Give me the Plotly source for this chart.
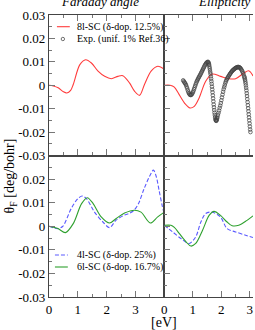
import plotly.graph_objects as go

# ---------------- data ----------------
# Top-left: Faraday angle, 8l-SC
far8_E = [0, 0.15, 0.32, 0.5, 0.62, 0.75, 0.84, 1.07, 1.27, 1.47, 1.7, 1.93, 2.16, 2.39, 2.56, 2.79, 2.97, 3.14, 3.31, 3.54, 3.77, 4.0]
far8_v = [0, -0.0003, -0.0011, -0.0028, -0.0033, -0.0022, 0.0003, 0.0088, 0.0109, 0.0095, 0.006, 0.0038, 0.0028, 0.0038, 0.0041, 0.001, -0.0026, -0.0043, 0.0003, 0.006, 0.0081, 0.0068]

# Top-right: Ellipticity, 8l-SC
ell8_E = [0, 0.2, 0.35, 0.52, 0.72, 0.9, 1.05, 1.22, 1.45, 1.68, 1.97, 2.26, 2.5, 2.79, 2.96, 3.11]
ell8_v = [0, 0, -0.0008, -0.004, -0.0078, -0.0097, -0.009, -0.0054, 0.0017, 0.0048, 0.0038, 0.0028, 0.0028, 0.0052, 0.0062, 0.004]

# Top-right: experiment (unif. 1%, Ref.36)
exp_E = [0.66, 0.68, 0.70, 0.72, 0.74, 0.76, 0.78, 0.80, 0.82, 0.84, 0.86, 0.88, 0.90, 0.92, 0.94, 0.96, 0.98,
         1.00, 1.02, 1.04, 1.06, 1.08, 1.10, 1.12, 1.14, 1.16, 1.18, 1.20, 1.22, 1.24, 1.26, 1.28, 1.30, 1.32,
         1.34, 1.36, 1.38, 1.40, 1.42, 1.44, 1.46, 1.48, 1.50, 1.52, 1.54, 1.55, 1.56, 1.57, 1.58, 1.59, 1.60,
         1.61, 1.62, 1.63, 1.64, 1.65, 1.66, 1.67, 1.68, 1.69, 1.70, 1.71, 1.72, 1.73, 1.74, 1.75, 1.76, 1.77,
         1.78, 1.79, 1.80, 1.81, 1.82, 1.83, 1.84, 1.85, 1.86, 1.88, 1.90, 1.92, 1.94, 1.96, 1.98, 2.00, 2.02,
         2.04, 2.06, 2.08, 2.10, 2.12, 2.14, 2.16, 2.18, 2.20, 2.22, 2.24, 2.26, 2.28, 2.30, 2.32, 2.34, 2.36,
         2.38, 2.40, 2.42, 2.44, 2.46, 2.48, 2.50, 2.52, 2.54, 2.56, 2.58, 2.60, 2.62, 2.64, 2.66, 2.68, 2.70,
         2.72, 2.74, 2.76, 2.78, 2.80, 2.81, 2.82, 2.83, 2.84, 2.85, 2.86, 2.87, 2.88, 2.89, 2.90, 2.91, 2.92,
         2.93, 2.94, 2.95, 2.96, 2.97, 2.98, 2.99, 3.00, 3.01, 3.02]
exp_v = [0.0021, 0.0017, 0.0013, 0.0010, 0.0006, 0.0001, -0.0006, -0.0013, -0.0021, -0.0028, -0.0034, -0.0038,
         -0.0041, -0.0042, -0.0041, -0.0039, -0.0035, -0.0030, -0.0024, -0.0017, -0.0010, -0.0003, 0.0004,
         0.0011, 0.0017, 0.0022, 0.0027, 0.0032, 0.0036, 0.0041, 0.0045, 0.0050, 0.0055, 0.0060, 0.0065,
         0.0070, 0.0075, 0.0080, 0.0085, 0.0089, 0.0093, 0.0096, 0.0098, 0.0100, 0.0099, 0.0096, 0.0092,
         0.0087, 0.0080, 0.0073, 0.0065, 0.0056, 0.0048, 0.0038, 0.0028, 0.0017, 0.0006, -0.0006, -0.0018,
         -0.0030, -0.0043, -0.0056, -0.0069, -0.0082, -0.0094, -0.0106, -0.0117, -0.0127, -0.0136, -0.0143,
         -0.0148, -0.0151, -0.0152, -0.0150, -0.0146, -0.0141, -0.0136, -0.0127, -0.0118, -0.0108, -0.0097,
         -0.0087, -0.0076, -0.0064, -0.0052, -0.0040, -0.0028, -0.0017, -0.0008, 0.0001, 0.0010, 0.0017,
         0.0023, 0.0028, 0.0032, 0.0036, 0.0040, 0.0044, 0.0048, 0.0051, 0.0055, 0.0058, 0.0061, 0.0064,
         0.0066, 0.0068, 0.0070, 0.0072, 0.0074, 0.0075, 0.0076, 0.0077, 0.0078, 0.0078, 0.0077, 0.0076,
         0.0074, 0.0071, 0.0067, 0.0063, 0.0058, 0.0052, 0.0046, 0.0038, 0.0034, 0.0029, 0.0023, 0.0016,
         0.0008, -0.0001, -0.0011, -0.0022, -0.0034, -0.0046, -0.0059, -0.0072, -0.0085, -0.0098, -0.0111,
         -0.0124, -0.0137, -0.0150, -0.0163, -0.0176, -0.0189, -0.0200]

# Bottom-left: Faraday angle, 4l-SC and 6l-SC
far4_E = [0, 0.31, 0.48, 0.77, 1.0, 1.15, 1.3, 1.58, 1.87, 2.1, 2.32, 2.61, 2.79, 2.95, 3.1, 3.3, 3.5, 3.62, 3.72, 3.82, 3.92, 4.0]
far4_v = [0, -0.001, 0, 0.0075, 0.0117, 0.0128, 0.0117, 0.006, 0.0018, -0.0006, 0.0025, 0.0047, 0.0055, 0.0068, 0.0095, 0.016, 0.0215, 0.0238, 0.021, 0.015, 0.009, 0.005]
far6_E = [0, 0.31, 0.57, 0.84, 1.13, 1.33, 1.53, 1.81, 2.1, 2.33, 2.62, 2.96, 3.19, 3.51, 3.77, 4.0]
far6_v = [0, -0.001, -0.0027, 0.0011, 0.0096, 0.0121, 0.0096, 0.004, 0.0014, 0.0033, 0.0056, 0.0068, 0.006, 0.0014, 0.004, 0.006]

# Bottom-right: Ellipticity, 4l-SC and 6l-SC
ell4_E = [0, 0.29, 0.58, 0.87, 1.1, 1.28, 1.45, 1.68, 1.97, 2.2, 2.5, 2.85, 3.11]
ell4_v = [0.0004, -0.0024, -0.0052, -0.0073, -0.0045, 0.0018, 0.0054, 0.006, 0.0039, -0.001, -0.0024, -0.0038, -0.0048]
ell6_E = [0, 0.23, 0.35, 0.52, 0.76, 0.93, 1.1, 1.34, 1.57, 1.74, 1.97, 2.2, 2.38, 2.61, 2.9, 3.11]
ell6_v = [0.0004, 0.0004, -0.0005, -0.003, -0.0066, -0.0084, -0.0073, -0.0017, 0.0046, 0.0063, 0.0046, 0.0018, 0.0002, 0.0004, 0.0025, 0.0044]

y_ticks = [-0.03, -0.02, -0.01, 0, 0.01, 0.02, 0.03]
y_text_top = ["-0.03", "-0.02", "-0.01", "0", "0.01", "0.02", "0.03"]
y_ticks_bot = [-0.03, -0.02, -0.01, 0, 0.01, 0.02, 0.03]
y_text_bot = ["-0.03", "-0.02", "-0.01", "0", "0.01", "0.02", " "]
y_minor = [-0.025, -0.015, -0.005, 0.005, 0.015, 0.025]
x_ticks_left = [0, 1, 2, 3, 4]
x_text_left = ["0", "1", "2", "3", " "]
x_ticks_right = [0, 1, 2, 3]
x_text_right = ["0", "1", "2", "3"]
x_minor = [0.5, 1.5, 2.5, 3.5]

legend_top = ["8l-SC (δ-dop. 12.5%)", "Exp. (unif. 1% Ref.36)"]
legend_bot = ["4l-SC (δ-dop. 25%)", "6l-SC (δ-dop. 16.7%)"]

RED = "#ff3b3b"
BLUE = "#5a5aff"
GREEN = "#2ea02e"
FONT = "Liberation Serif"

W, H = 255, 330
ML, MR, MT, MB = 49, 0, 15, 33
PW, PH = W - ML - MR, H - MT - MB


def px(xp):
    return (xp - ML) / PW


def py(yp):
    return (H - MB - yp) / PH


split_x = px(165.5)
split_y = py(155.5)

fig = go.Figure()
line_kw = dict(shape="spline", smoothing=0.9, width=1.1)
fig.add_trace(go.Scatter(x=far8_E, y=far8_v, mode="lines", line=dict(color=RED, **line_kw), xaxis="x", yaxis="y"))
fig.add_trace(go.Scatter(x=ell8_E, y=ell8_v, mode="lines", line=dict(color=RED, **line_kw), xaxis="x2", yaxis="y2"))
fig.add_trace(go.Scatter(x=exp_E, y=exp_v, mode="markers",
                         marker=dict(symbol="circle-open", size=3.6, color="#444", line=dict(width=0.75)),
                         xaxis="x2", yaxis="y2"))
fig.add_trace(go.Scatter(x=far4_E, y=far4_v, mode="lines", line=dict(color=BLUE, dash="4px,2px", **line_kw), xaxis="x3", yaxis="y3"))
fig.add_trace(go.Scatter(x=far6_E, y=far6_v, mode="lines", line=dict(color=GREEN, **line_kw), xaxis="x3", yaxis="y3"))
fig.add_trace(go.Scatter(x=ell4_E, y=ell4_v, mode="lines", line=dict(color=BLUE, dash="4px,2px", **line_kw), xaxis="x4", yaxis="y4"))
fig.add_trace(go.Scatter(x=ell6_E, y=ell6_v, mode="lines", line=dict(color=GREEN, **line_kw), xaxis="x4", yaxis="y4"))

AX = dict(showline=True, linecolor="#444", linewidth=1.1, ticks="inside", ticklen=6, tickcolor="#777",
          tickwidth=1, showgrid=False, zeroline=False, tickfont=dict(family=FONT, size=13, color="#000"))


def xax(domain, anchor, rng, vals, text, labels, mirror):
    return dict(AX, domain=domain, anchor=anchor, range=rng, tickmode="array", tickvals=vals, ticktext=text,
                showticklabels=labels, mirror=mirror,
                minor=dict(tickmode="array", tickvals=x_minor, ticks="inside", ticklen=3, tickcolor="#777"))


def yax(domain, anchor, vals, text, labels, mirror):
    return dict(AX, domain=domain, anchor=anchor, range=[-0.03, 0.03], tickmode="array", tickvals=vals,
                ticktext=text, showticklabels=labels, mirror=mirror,
                minor=dict(tickmode="array", tickvals=y_minor, ticks="inside", ticklen=3, tickcolor="#777"))


fig.update_layout(
    width=W, height=H, margin=dict(l=ML, r=MR, t=MT, b=MB),
    paper_bgcolor="white", plot_bgcolor="white", showlegend=False,
    font=dict(family=FONT, size=12, color="#000"),
    xaxis=xax([0, split_x], "y", [0, 4], x_ticks_left, x_text_left, False, "ticks"),
    xaxis2=xax([split_x, 1], "y2", [0, 3.11], x_ticks_right, x_text_right, False, "ticks"),
    xaxis3=xax([0, split_x], "y3", [0, 4], x_ticks_left, x_text_left, True, True),
    xaxis4=xax([split_x, 1], "y4", [0, 3.11], x_ticks_right, x_text_right, True, True),
    yaxis=yax([split_y, 1], "x", y_ticks, y_text_top, True, True),
    yaxis2=yax([split_y, 1], "x2", y_ticks, y_text_top, False, False),
    yaxis3=yax([0, split_y], "x3", y_ticks_bot, y_text_bot, True, True),
    yaxis4=yax([0, split_y], "x4", y_ticks_bot, y_text_bot, False, False),
)

ann = []
ann.append(dict(text="Faraday angle", x=px(101), y=1, xref="paper", yref="paper", xanchor="center",
                yanchor="middle", yshift=14, showarrow=False,
                font=dict(family=FONT, size=13, style="italic")))
ann.append(dict(text="Ellipticity", x=px(226), y=1, xref="paper", yref="paper", xanchor="center",
                yanchor="middle", yshift=14, showarrow=False,
                font=dict(family=FONT, size=13, style="italic")))
ann.append(dict(text="θ<sub>F</sub> [deg/bohr]", x=px(10), y=py(176), xref="paper", yref="paper",
                textangle=-90, showarrow=False, xanchor="center", yanchor="middle",
                font=dict(family=FONT, size=14)))
ann.append(dict(text="[eV]", x=px(165), y=py(322), xref="paper", yref="paper", showarrow=False,
                xanchor="center", yanchor="middle", font=dict(family=FONT, size=14)))
for txt, yy in zip(legend_top, [26.7, 39]):
    ann.append(dict(text=txt, x=px(75), y=py(yy), xref="paper", yref="paper", showarrow=False,
                    xanchor="left", yanchor="middle", font=dict(family=FONT, size=10)))
for txt, yy in zip(legend_bot, [255, 267]):
    ann.append(dict(text=txt, x=px(75), y=py(yy), xref="paper", yref="paper", showarrow=False,
                    xanchor="left", yanchor="middle", font=dict(family=FONT, size=10)))

shapes = [
    dict(type="line", xref="paper", yref="paper", x0=px(57), x1=px(70), y0=py(26.7), y1=py(26.7),
         line=dict(color=RED, width=1.1)),
    dict(type="circle", xref="paper", yref="paper", x0=px(61.3), x1=px(64.7), y0=py(40.7), y1=py(37.3),
         line=dict(color="#444", width=0.75)),
    dict(type="line", xref="paper", yref="paper", x0=px(55), x1=px(68), y0=py(255), y1=py(255),
         line=dict(color=BLUE, width=1.1, dash="4px,2px")),
    dict(type="line", xref="paper", yref="paper", x0=px(55), x1=px(68), y0=py(267), y1=py(267),
         line=dict(color=GREEN, width=1.1)),
]
fig.update_layout(annotations=ann, shapes=shapes)

fig.write_html("out.html", config={"displayModeBar": False},
               post_script="document.body.style.margin='0';document.body.style.padding='0';")
